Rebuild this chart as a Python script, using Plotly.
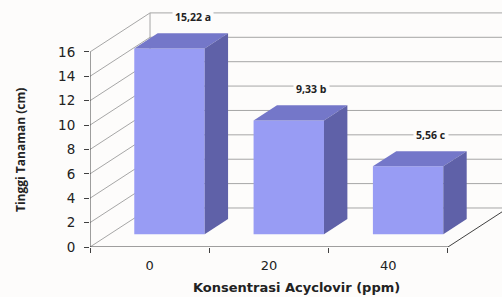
import plotly.graph_objects as go

# ---- data ----
categories = ["0", "20", "40"]
values = [15.22, 9.33, 5.56]
labels = ["15,22 a", "9,33 b", "5,56 c"]
y_ticks = [0, 2, 4, 6, 8, 10, 12, 14, 16]

# ---- pseudo-3D geometry (axis units) ----
DX, DY = 0.503, 3.2        # full depth offset
D0, D1 = 0.33, 0.72        # bar front / back depth fraction
BW = 0.59                  # bar width
YMAX = 16
XR = [-0.5, 2.953]
YR = [0, 20.26]

FRONT = "#989cf4"
TOP = "#7477c9"
SIDE = "#5f61a8"
GRID = "#a6a6a6"
AXIS = "#404040"
BG = "#fdfcfb"

fig = go.Figure()
shapes = []

def line(x0, y0, x1, y1, color, width=1):
    shapes.append(dict(type="line", xref="x", yref="y", x0=x0, y0=y0, x1=x1, y1=y1,
                       line=dict(color=color, width=width), layer="below"))

n = len(categories)
x_left, x_right = -0.5, n - 0.5

# back wall gridlines
for t in y_ticks:
    line(x_left + DX, t + DY, XR[1] + 0.1, t + DY, GRID)
# left wall diagonals
for t in y_ticks:
    line(x_left, t, x_left + DX, t + DY, GRID)
# back wall left edge
line(x_left + DX, DY, x_left + DX, YMAX + DY, GRID)
# floor right edge
line(x_right, 0, x_right + DX, DY, AXIS)
# front axes
line(x_left, 0, x_left, YMAX, AXIS)
line(x_left, 0, x_right, 0, AXIS)

# bars: front faces
xs_front = [i + D0 * DX for i in range(n)]
fig.add_trace(go.Bar(x=xs_front, y=values, base=[D0 * DY] * n, width=BW,
                     marker=dict(color=FRONT, line=dict(width=0)),
                     hoverinfo="skip", showlegend=False))

# bars: top and side faces
for i, v in enumerate(values):
    x0, x1 = i - BW / 2, i + BW / 2
    fig.add_trace(go.Scatter(
        x=[x0 + D0 * DX, x1 + D0 * DX, x1 + D1 * DX, x0 + D1 * DX, x0 + D0 * DX],
        y=[v + D0 * DY, v + D0 * DY, v + D1 * DY, v + D1 * DY, v + D0 * DY],
        fill="toself", fillcolor=TOP, mode="lines", line=dict(width=0, color=TOP),
        hoverinfo="skip", showlegend=False))
    fig.add_trace(go.Scatter(
        x=[x1 + D0 * DX, x1 + D0 * DX, x1 + D1 * DX, x1 + D1 * DX, x1 + D0 * DX],
        y=[D0 * DY, v + D0 * DY, v + D1 * DY, D1 * DY, D0 * DY],
        fill="toself", fillcolor=SIDE, mode="lines", line=dict(width=0, color=SIDE),
        hoverinfo="skip", showlegend=False))
    fig.add_annotation(x=i + 0.36, y=v + D1 * DY + 1.36, text="<b>" + labels[i] + "</b>",
                       showarrow=False,
                       font=dict(family="Open Sans", size=10.5, color="#222222"),
                       bgcolor=BG, borderpad=2, xanchor="center", yanchor="middle")

fig.update_layout(
    width=502, height=297,
    margin=dict(l=90, r=0, t=0, b=50, autoexpand=False),
    plot_bgcolor=BG, paper_bgcolor=BG,
    shapes=shapes,
    xaxis=dict(range=XR, tickvals=[x_left + k for k in range(n + 1)], ticktext=[""] * (n + 1),
               ticks="outside", ticklen=5, tickcolor=AXIS, showgrid=False, zeroline=False,
               showline=False, fixedrange=True, automargin=False),
    xaxis2=dict(range=XR, overlaying="x", side="bottom", tickvals=list(range(n)),
                ticktext=categories, ticks="", showgrid=False, zeroline=False, showline=False,
                tickfont=dict(family="DejaVu Sans", size=13, color="#222222"),
                ticklabelstandoff=9, automargin=False),
    yaxis=dict(range=YR, tickvals=y_ticks, ticks="outside", ticklen=5, tickcolor=AXIS,
               showgrid=False, zeroline=False, showline=False,
               tickfont=dict(family="DejaVu Sans", size=13.5, color="#222222"),
               ticklabelstandoff=6, automargin=False),
    showlegend=False,
)
fig.add_trace(go.Scatter(x=[0], y=[-10], xaxis="x2", mode="markers", showlegend=False,
                         hoverinfo="skip"))

fig.add_annotation(x=0.5, xref="paper", y=-40 / 247, yref="paper",
                   text="<b>Konsentrasi Acyclovir (ppm)</b>", showarrow=False,
                   font=dict(family="DejaVu Sans", size=13, color="#222222"), yanchor="middle")
fig.add_annotation(x=-70 / 412, xref="paper", y=(247 - 150) / 247, yref="paper",
                   text="<b>Tinggi Tanaman (cm)</b>", showarrow=False, textangle=-90,
                   font=dict(family="Open Sans", size=12, color="#222222"), xanchor="center",
                   yanchor="middle")

fig.write_html("out.html", config={"displayModeBar": False},
               post_script="document.body.style.margin='0';document.body.style.overflow='hidden';")
